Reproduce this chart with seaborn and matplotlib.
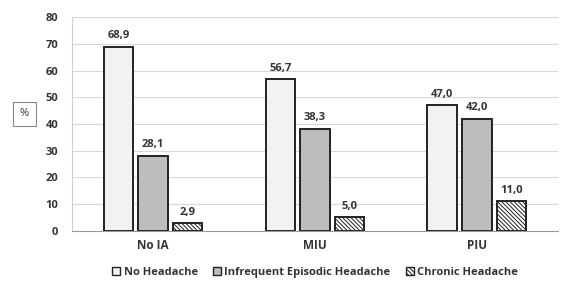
import pandas as pd
import seaborn as sns
import matplotlib.pyplot as plt
from matplotlib.patches import Patch

# Data
groups = ['No IA', 'MIU', 'PIU']
series = ['No Headache', 'Infrequent Episodic Headache', 'Chronic Headache']
no_headache = [68.9, 56.7, 47.0]
infrequent = [28.1, 38.3, 42.0]
chronic = [2.9, 5.0, 11.0]

df = pd.DataFrame({
    'group': groups * 3,
    'type': [series[0]] * 3 + [series[1]] * 3 + [series[2]] * 3,
    'value': no_headache + infrequent + chronic,
})

sns.set_style('white')
plt.rcParams['font.family'] = ['Open Sans', 'DejaVu Sans']
plt.rcParams['hatch.linewidth'] = 0.7

fills = ['#f2f2f2', '#bdbdbd', 'white']
hatches = [None, None, '\\\\\\\\\\\\\\\\']

fig = plt.figure(figsize=(5.68, 2.85), dpi=100)
ax = fig.add_axes([0.127, 0.19, 0.855, 0.75])

sns.barplot(data=df, x='group', y='value', hue='type', order=groups,
            hue_order=series, palette=fills, width=0.64, gap=0.14,
            edgecolor='#222222', linewidth=1.4, legend=False, ax=ax)

for i, cont in enumerate(ax.containers):
    for bar in cont:
        if hatches[i]:
            bar.set_hatch(hatches[i])
    ax.bar_label(cont, labels=[f'{v:.1f}'.replace('.', ',') for v in cont.datavalues],
                 padding=4, fontsize=8, fontweight='bold', color='#333333')

ax.set_ylim(0, 80)
ax.set_yticks(range(0, 81, 10))
ax.set_xlim(-0.5, 2.5)
ax.yaxis.grid(True, color='#d9d9d9', linewidth=0.8)
ax.set_axisbelow(True)
for s in ['top', 'right']:
    ax.spines[s].set_visible(False)
ax.spines['left'].set_color('#d0d0d0')
ax.spines['bottom'].set_color('#999999')
ax.tick_params(axis='y', labelsize=8, length=0, pad=10)
ax.tick_params(axis='x', labelsize=8.5, length=0, pad=6)
for t in ax.get_xticklabels() + ax.get_yticklabels():
    t.set_fontweight('bold')
    t.set_color('#333333')
ax.set_xlabel('')
ax.set_ylabel('')

fig.text(0.043, 0.6, '%', fontsize=8, ha='center', va='center', color='#333333',
         bbox=dict(boxstyle='square,pad=0.6', fc='white', ec='#888888', lw=0.8))

handles = [Patch(facecolor=fills[i], edgecolor='#222222', hatch=hatches[i], label=series[i])
           for i in range(3)]
leg = fig.legend(handles=handles, loc='lower center', bbox_to_anchor=(0.555, -0.01),
                 ncol=3, frameon=False, handlelength=0.7, handleheight=0.7,
                 handletextpad=0.3, columnspacing=1.4,
                 prop={'size': 8, 'weight': 'bold'})
for t in leg.get_texts():
    t.set_color('#333333')

fig.savefig('out.png', dpi=100)
